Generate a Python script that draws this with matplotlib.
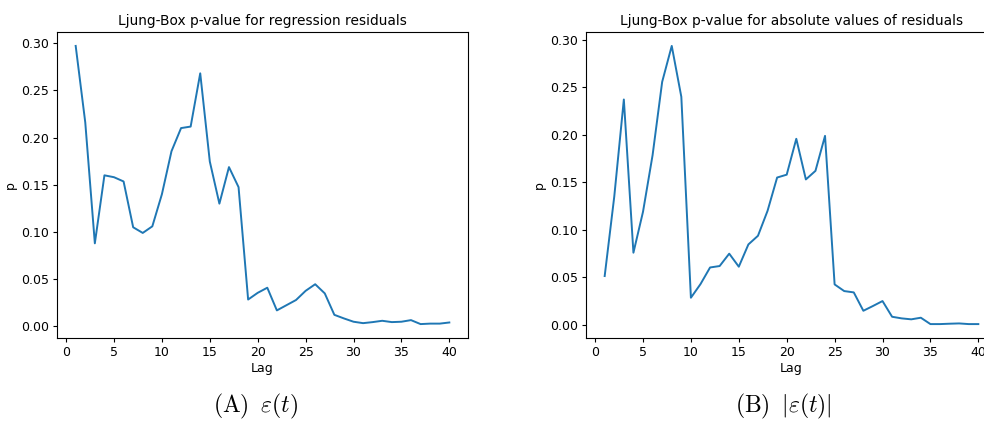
import matplotlib
matplotlib.use("Agg")
import matplotlib.pyplot as plt

lags = list(range(1, 41))
p_resid = [0.297, 0.216, 0.088, 0.160, 0.158, 0.1535, 0.105, 0.099, 0.106, 0.140,
           0.1855, 0.210, 0.2116, 0.268, 0.1746, 0.130, 0.1687, 0.1475, 0.0285, 0.0356,
           0.041, 0.017, 0.0225, 0.028, 0.0377, 0.0447, 0.035, 0.0123, 0.0085, 0.005,
           0.0035, 0.0046, 0.006, 0.0046, 0.005, 0.0067, 0.0025, 0.003, 0.003, 0.0042]
p_abs = [0.0515, 0.135, 0.237, 0.076, 0.119, 0.1785, 0.2555, 0.2933, 0.2398, 0.0287,
         0.043, 0.0605, 0.062, 0.075, 0.0613, 0.0847, 0.0938, 0.120, 0.155, 0.158,
         0.1957, 0.153, 0.162, 0.1988, 0.0427, 0.0357, 0.0343, 0.015, 0.020, 0.0252,
         0.0087, 0.007, 0.006, 0.0077, 0.001, 0.001, 0.0014, 0.0017, 0.001, 0.001]

titles = ["Ljung-Box p-value for regression residuals",
          "Ljung-Box p-value for absolute values of residuals"]
captions = [r"$\mathrm{(A)}\;\;\varepsilon(t)$", r"$\mathrm{(B)}\;\;|\varepsilon(t)|$"]
yticks = [0.0, 0.05, 0.10, 0.15, 0.20, 0.25, 0.30]
xticks = [0, 5, 10, 15, 20, 25, 30, 35, 40]

plt.rcParams['mathtext.fontset'] = 'cm'
fs = 9
fig = plt.figure(figsize=(9.84, 4.21), dpi=100)
ax1 = fig.add_axes([57/984, 83/421, 411/984, 306/421])
ax2 = fig.add_axes([586/984, 83/421, 411/984, 306/421])

for ax, data, title in zip([ax1, ax2], [p_resid, p_abs], titles):
    ax.plot(lags, data, color='#1f77b4', lw=1.4)
    ax.set_title(title, fontsize=9.9, pad=5)
    ax.set_xlabel("Lag", fontsize=fs, labelpad=2)
    ax.set_ylabel("p", fontsize=fs, labelpad=3)
    ax.set_xticks(xticks)
    ax.set_yticks(yticks)
    ax.set_yticklabels([f"{v:.2f}" for v in yticks])
    ax.tick_params(labelsize=fs, length=3, width=0.8, pad=3)
    for s in ax.spines.values():
        s.set_linewidth(0.8)

fig.text(256/984, 1 - 406/421, captions[0], fontsize=17, ha='center', va='center')
fig.text(783/984, 1 - 406/421, captions[1], fontsize=17, ha='center', va='center')

fig.savefig("out.png", dpi=100)
